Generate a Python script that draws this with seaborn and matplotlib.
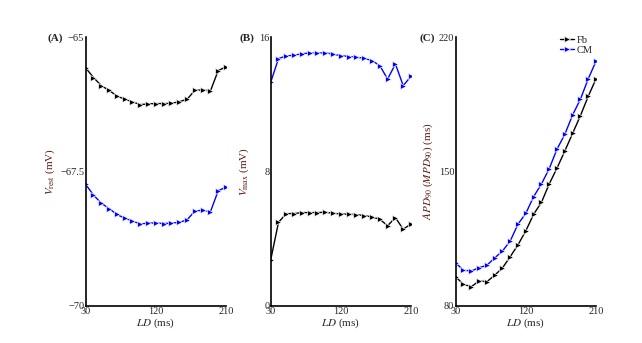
import numpy as np
import pandas as pd
import matplotlib
matplotlib.use("Agg")
import matplotlib.pyplot as plt
import seaborn as sns

# ---- data ----
ld = [30, 40, 50, 60, 70, 80, 90, 100, 110, 120, 130, 140, 150, 160, 170, 180, 190, 200, 210]

vrest_fb = [-65.57, -65.75, -65.90, -65.99, -66.09, -66.155, -66.20, -66.255, -66.24, -66.235,
            -66.235, -66.23, -66.20, -66.155, -65.99, -65.98, -66.00, -65.62, -65.55]
vrest_cm = [-67.74, -67.94, -68.09, -68.19, -68.30, -68.37, -68.42, -68.48, -68.46, -68.46,
            -68.47, -68.46, -68.45, -68.40, -68.24, -68.22, -68.25, -67.86, -67.79]

vmax_cm = [13.32, 14.73, 14.89, 14.93, 15.02, 15.06, 15.05, 15.08, 14.99, 14.91,
           14.85, 14.81, 14.75, 14.61, 14.31, 13.51, 14.41, 13.12, 13.67]
vmax_fb = [2.73, 4.97, 5.49, 5.49, 5.55, 5.55, 5.55, 5.57, 5.51, 5.47,
           5.45, 5.43, 5.37, 5.29, 5.15, 4.77, 5.25, 4.56, 4.87]

apd_fb = [95.0, 91.2, 89.9, 92.9, 92.5, 95.9, 99.7, 105.6, 111.8, 119.1,
          127.7, 133.9, 143.5, 151.8, 160.7, 169.9, 179.1, 189.2, 198.3]
apd_cm = [102.3, 98.5, 98.1, 99.8, 101.1, 104.9, 108.5, 113.8, 122.6, 128.2,
          136.9, 143.5, 151.5, 161.7, 169.4, 179.5, 187.7, 198.3, 207.5]

xticks = [30, 120, 210]
series_names = ["Fb", "CM"]
colors = {"Fb": "#000000", "CM": "#0000ff"}

sns.set_style("white")
plt.rcParams["font.family"] = ["Liberation Serif", "DejaVu Serif"]
plt.rcParams["mathtext.fontset"] = "stix"

fig = plt.figure(figsize=(6.42, 3.43), dpi=100)
W, H = 642, 343
def rect(l, r, t, b):
    return [l / W, 1 - b / H, (r - l) / W, (b - t) / H]

axA = fig.add_axes(rect(85.7, 226, 37.3, 305.7))
axB = fig.add_axes(rect(270.7, 411, 37.3, 305.7))
axC = fig.add_axes(rect(455.7, 596, 37.3, 305.7))

def draw(ax, fb, cm, legend=False):
    df = pd.DataFrame({"LD": ld * 2, "val": list(fb) + list(cm),
                       "cell": ["Fb"] * len(ld) + ["CM"] * len(ld)})
    sns.lineplot(data=df, x="LD", y="val", hue="cell", hue_order=series_names,
                 palette=colors, marker=">", markersize=4.5, markeredgewidth=0.5,
                 linewidth=1.0, ax=ax, legend=legend)

draw(axA, vrest_fb, vrest_cm)
draw(axB, vmax_fb, vmax_cm)
draw(axC, apd_fb, apd_cm, legend=True)

lab_col = "#5a1a10"
tick_fs = 7.5
for ax, ylim, yt, ytl in [
    (axA, (-70, -65), [-70, -67.5, -65], ["\u221270", "\u221267.5", "\u221265"]),
    (axB, (0, 16), [0, 8, 16], ["0", "8", "16"]),
    (axC, (80, 220), [80, 150, 220], ["80", "150", "220"]),
]:
    ax.set_xlim(30, 210)
    ax.set_ylim(*ylim)
    ax.set_xticks(xticks)
    ax.set_xticklabels([str(v) for v in xticks], fontsize=tick_fs)
    ax.set_yticks(yt)
    ax.set_yticklabels(ytl, fontsize=tick_fs)
    ax.tick_params(axis="both", direction="in", length=2.5, width=0.6, pad=1)
    for s in ["top", "right"]:
        ax.spines[s].set_visible(False)
    for s in ["left", "bottom"]:
        ax.spines[s].set_linewidth(1.2)
        ax.spines[s].set_color("black")
    ax.set_xlabel(r"$\mathit{LD}$ (ms)", fontsize=8, labelpad=0)
    ax.set_facecolor("white")

axA.set_ylabel(r"$V_{\rm rest}$ (mV)", fontsize=8, color=lab_col, labelpad=2)
axB.set_ylabel(r"$V_{\rm max}$ (mV)", fontsize=8, color=lab_col, labelpad=6)
axC.set_ylabel(r"$APD_{90}$ ($MPD_{90}$) (ms)", fontsize=8, color=lab_col, labelpad=3)

for ax, lbl, xp in [(axA, "(A)", 55), (axB, "(B)", 247), (axC, "(C)", 427)]:
    fig.text(xp / W, 1 - 38 / H, lbl, fontsize=8, fontweight="bold",
             ha="center", va="center")

leg = axC.legend(loc="upper right", bbox_to_anchor=(1.02, 1.03), frameon=False,
                 fontsize=7.5, handlelength=1.4, handletextpad=0.2,
                 labelspacing=0.1, borderaxespad=0.2)
leg.set_title(None)

fig.savefig("out.png", dpi=100, facecolor="white")
